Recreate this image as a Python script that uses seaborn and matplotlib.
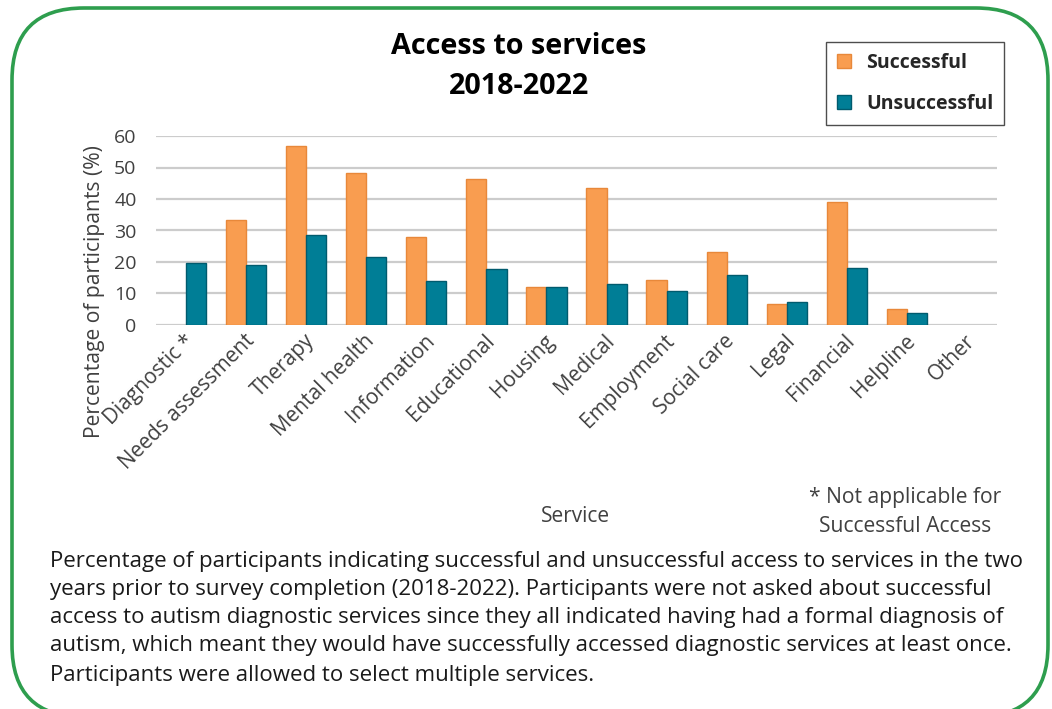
import numpy as np
import pandas as pd
import matplotlib
matplotlib.use("Agg")
import matplotlib.pyplot as plt
import seaborn as sns
from matplotlib.patches import FancyBboxPatch
from matplotlib.transforms import IdentityTransform, ScaledTranslation

# data
services = ["Diagnostic *", "Needs assessment", "Therapy", "Mental health",
            "Information", "Educational", "Housing", "Medical", "Employment",
            "Social care", "Legal", "Financial", "Helpline", "Other"]
successful = [np.nan, 33.2, 56.8, 48.1, 27.9, 46.3, 12.2, 43.6, 14.4,
              23.1, 6.8, 38.9, 5.1, np.nan]
unsuccessful = [19.8, 19.2, 28.5, 21.5, 14.1, 17.8, 12.2, 13.1, 10.7,
                15.8, 7.4, 18.1, 3.8, np.nan]
groups = ["Successful", "Unsuccessful"]
yticks = [0, 10, 20, 30, 40, 50, 60]

caption = [
    "Percentage of participants indicating successful and unsuccessful access to services in the two",
    "years prior to survey completion (2018-2022). Participants were not asked about successful",
    "access to autism diagnostic services since they all indicated having had a formal diagnosis of",
    "autism, which meant they would have successfully accessed diagnostic services at least once.",
    "Participants were allowed to select multiple services.",
]

df = pd.DataFrame({
    "Service": services * 2,
    "Percent": successful + unsuccessful,
    "Access": [groups[0]] * len(services) + [groups[1]] * len(services),
})

sns.set_theme(style="white")
plt.rcParams["font.family"] = ["Open Sans", "DejaVu Sans"]

W, H = 1052, 709
fig = plt.figure(figsize=(W / 100, H / 100), dpi=100)
fig.patch.set_facecolor("white")

def fx(px):
    return px / W

def fy(py):
    return 1 - py / H

ax = fig.add_axes([fx(156), fy(325), fx(997) - fx(156), fy(136) - fy(325)])

colors = {"Successful": "#F99D50", "Unsuccessful": "#007E96"}
edges = {"Successful": "#E8883A", "Unsuccessful": "#005B6E"}

sns.barplot(data=df, x="Service", y="Percent", hue="Access", order=services,
            hue_order=groups, palette=colors, width=0.67, saturation=1,
            gap=0, ax=ax, legend=True)

for cont, g in zip(ax.containers, groups):
    for bar in cont:
        bar.set_edgecolor(edges[g])
        bar.set_linewidth(1.0)

ax.set_xlim(-0.5, len(services) - 0.5)
ax.set_ylim(0, 60)
ax.set_yticks(yticks)
ax.set_yticklabels([str(t) for t in yticks])
ax.yaxis.grid(True, color="#CCCCCC", linewidth=1.6)
ax.set_axisbelow(True)
for s in ax.spines.values():
    s.set_visible(False)
ax.tick_params(axis="both", length=0, labelcolor="#404040")
ax.tick_params(axis="y", pad=14, labelsize=14)
ax.tick_params(axis="x", labelsize=15)
ax.set_xlabel("")
ax.set_ylabel("")
ax.set_xticks(range(len(services)))
ax.set_xticklabels(services, rotation=45, ha="right", va="center",
                   rotation_mode="anchor")
for lab in ax.get_xticklabels():
    lab.set_transform(lab.get_transform() + ScaledTranslation(0.05, -0.08, fig.dpi_scale_trans))

# legend
leg = ax.legend(loc="upper right", bbox_to_anchor=(fx(1004), fy(42)),
                bbox_transform=fig.transFigure, borderaxespad=0,
                frameon=True, fancybox=False, edgecolor="#222222",
                labelspacing=1.1, handlelength=0.7, handleheight=0.7,
                handletextpad=0.8, borderpad=0.55, prop={"weight": "bold", "size": 14})
leg.get_frame().set_linewidth(1.0)
for h, g in zip(leg.legend_handles, groups):
    h.set_edgecolor(edges[g])

# titles and labels
fig.text(fx(519), fy(47), "Access to services", ha="center", va="center",
         fontsize=20.7, fontweight="bold", color="black")
fig.text(fx(519), fy(86), "2018-2022", ha="center", va="center",
         fontsize=20.7, fontweight="bold", color="black")
fig.text(fx(95), fy(292), "Percentage of participants (%)", rotation=90,
         ha="center", va="center", fontsize=15.2, color="#404040")
fig.text(fx(575), fy(516), "Service", ha="center", va="center",
         fontsize=15, color="#404040")
fig.text(fx(905), fy(512), "* Not applicable for\nSuccessful Access",
         ha="center", va="center", multialignment="center",
         fontsize=15.2, color="#404040", linespacing=1.5)

cap_y = [561, 590, 618, 646, 675]
for line, yy in zip(caption, cap_y):
    fig.text(fx(50), fy(yy), line, ha="left", va="center",
             fontsize=16, color="#1A1A1A")

# rounded green frame
frame = FancyBboxPatch((12, -8), 1036, 709, boxstyle="round,pad=0,rounding_size=72",
                       transform=IdentityTransform(), facecolor="none",
                       edgecolor="#2E9E4E", linewidth=2.6)
fig.patches.append(frame)

fig.savefig("out.png", dpi=100, facecolor="white")
